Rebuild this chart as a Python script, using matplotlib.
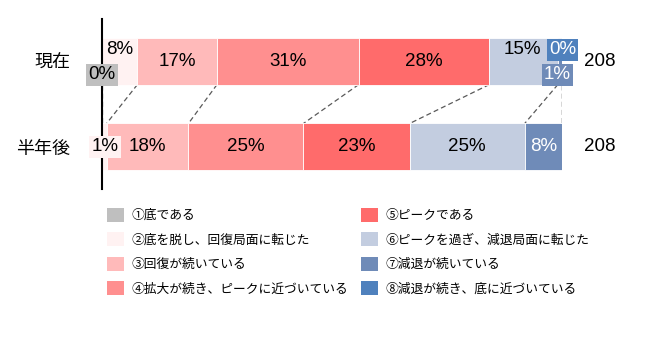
import matplotlib
matplotlib.use("Agg")
import matplotlib.pyplot as plt
from matplotlib.patches import Patch
import numpy as np

plt.rcParams['font.family'] = ['Noto Sans CJK JP', 'DejaVu Sans']

rows = ['現在', '半年後']
counts = [208, 208]
phases = ['①底である', '②底を脱し、回復局面に転じた', '③回復が続いている',
          '④拡大が続き、ピークに近づいている', '⑤ピークである',
          '⑥ピークを過ぎ、減退局面に転じた', '⑦減退が続いている',
          '⑧減退が続き、底に近づいている']
now = [0.0, 7.7, 17.3, 30.8, 28.4, 14.9, 1.0, 0.0]
later = [0.0, 1.0, 17.8, 25.0, 23.1, 25.0, 8.2, 0.0]
colors = ['#BFBFBF', '#FFF2F2', '#FFBABA', '#FF8F8F', '#FF6B6B',
          '#C3CDE0', '#6F8BB8', '#4F81BD']
txt_col = ['black'] * 6 + ['white', 'white']

fig = plt.figure(figsize=(6.71, 3.42), dpi=100)
ax = fig.add_axes([102 / 671, 1 - 189 / 342, 460 / 671, 170 / 342])
ax.set_xlim(0, 100)
ax.set_ylim(1.49, -0.49)
h = 0.547
num_font = ['Liberation Sans', 'DejaVu Sans']
fs = 13.5

data = np.array([now, later])
cums = np.cumsum(data, axis=1)
for r in range(2):
    left = 0
    for i, v in enumerate(data[r]):
        ax.barh(r, v, left=left, height=h, color=colors[i],
                edgecolor='white', linewidth=0.6, zorder=2)
        left += v

# series lines between the two bars
for i in range(len(phases)):
    ax.plot([cums[0, i], cums[1, i]], [h / 2, 1 - h / 2],
            color='#595959', lw=0.9, ls=(0, (4, 2.5)), zorder=1)


def label(r, i, dy=0.0, box=False, dx=0.0):
    v = data[r][i]
    x = cums[r][i] - v / 2 + dx
    kw = dict(ha='center', va='center', fontsize=fs, color=txt_col[i],
              family=num_font, zorder=5)
    if box:
        kw['bbox'] = dict(boxstyle='square,pad=0.12', fc=colors[i], ec='none')
    ax.text(x, r + dy, f'{v:.0f}%', **kw)


# current
label(0, 0, dy=0.16, box=True)
label(0, 1, dy=-0.13)
for i in (2, 3, 4):
    label(0, i)
label(0, 5, dy=-0.13, dx=-0.3)
label(0, 6, dy=0.16, box=True, dx=-0.6)
label(0, 7, dy=-0.13, box=True)
# half year later
label(1, 1, box=True, dx=0.2)
for i in (2, 3, 4, 5, 6):
    label(1, i)

for r in range(2):
    ax.text(104.8, r, str(counts[r]), ha='left', va='center', fontsize=fs,
            family=num_font, color='black')

ax.set_yticks([0, 1])
ax.set_yticklabels(rows, fontsize=13)
ax.tick_params(axis='y', length=0, pad=23)
ax.set_xticks([])
for s in ('top', 'right', 'bottom'):
    ax.spines[s].set_visible(False)
ax.spines['left'].set_linewidth(1.5)
ax.spines['left'].set_zorder(3)

handles = [Patch(facecolor=c, edgecolor='none') for c in colors]
fig.legend(handles, phases, ncol=2, loc='upper left',
           bbox_to_anchor=(98 / 671, 1 - 199 / 342), frameon=False,
           fontsize=9.2, handlelength=1.3, handleheight=1.3,
           handletextpad=0.6, columnspacing=1.05, labelspacing=0.8,
           borderaxespad=0.3)

fig.savefig('out.png', dpi=100)
